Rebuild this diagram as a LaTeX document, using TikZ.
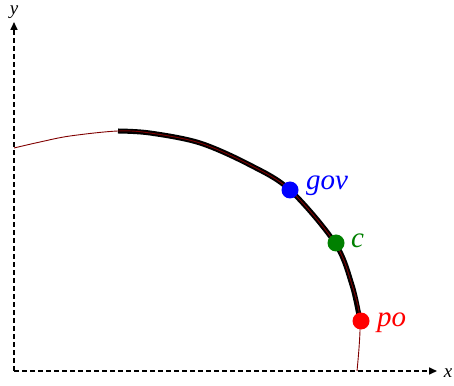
\documentclass[tikz,border=0pt]{standalone}
\usepackage{fontspec}
\setmainfont{Liberation Serif}
\usetikzlibrary{arrows.meta}
\begin{document}
\begin{tikzpicture}[x=1pt,y=1pt,
  axis/.style={dashed, line width=1.6pt, dash pattern=on 5pt off 3pt, -{Triangle[length=8pt,width=7pt]}},
  dot/.style={circle, inner sep=0pt, minimum size=17pt},
  lbl/.style={anchor=base west, inner sep=0pt, font=\fontsize{29}{30}\selectfont\itshape},
  axlbl/.style={inner sep=0pt, font=\fontsize{19}{20}\selectfont\itshape}]
\useasboundingbox (0,0) rectangle (454,385);
\coordinate (o) at (14,14);
\coordinate (ytop) at (14,363);
\coordinate (xend) at (437,14);
\draw[axis] (o) -- (ytop);
\draw[axis] (o) -- (xend);
\node[axlbl] (ylab) at (14,373) {y};
\node[axlbl] (xlab) at (448,12) {x};
% thick segment
\draw[line width=5pt, black] plot[smooth, tension=0.55] coordinates {(118,254) (150,252) (200,242) (250,220) (290,195) (335,142) (352,100) (360,64)};
% thin curve
\draw[line width=0.9pt, red!50!black] plot[smooth, tension=0.55] coordinates {(14,237) (40,243) (70,249) (118,254) (150,252) (200,242) (250,220) (290,195) (335,142) (352,100) (360,64) (357,14)};
\node[dot, fill=blue] (gov) at (290,195) {};
\node[dot, fill=green!50!black] (c) at (336,142) {};
\node[dot, fill=red] (po) at (361,64) {};
\node[lbl, text=blue] (govl) at (306,195) {gov};
\node[lbl, text=green!50!black] (cl) at (351,137) {c};
\node[lbl, text=red] (pol) at (377,59) {po};
\end{tikzpicture}
\end{document}
